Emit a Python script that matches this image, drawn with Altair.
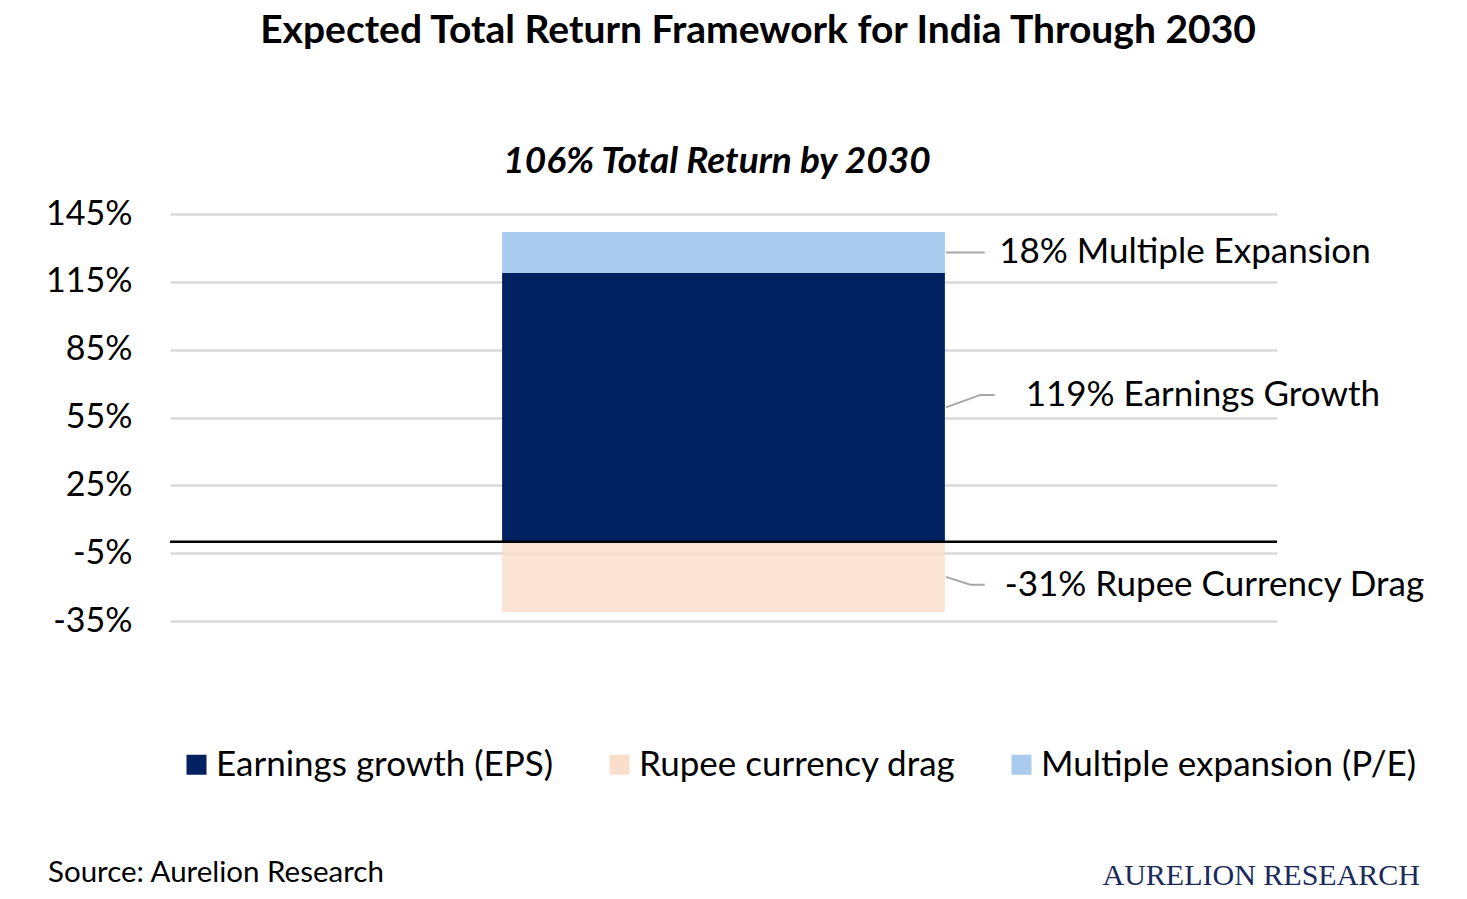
import altair as alt
import pandas as pd

# stacked components of the expected total return (%)
segments = ["Earnings growth (EPS)", "Rupee currency drag", "Multiple expansion (P/E)"]
seg_start = [0, 0, 119]
seg_end = [119, -31, 137]
seg_colors = ["#022160", "#FBDDCB", "#A9CBEE"]
callouts = ["119% Earnings Growth", "-31% Rupee Currency Drag", "18% Multiple Expansion"]
y_ticks = [-35, -5, 25, 55, 85, 115, 145]

total = sum(e - s for s, e in zip(seg_start, seg_end))

FONT = "Lato"
W, H = 1107, 407
BAR = (0.3, 0.7)

bars = pd.DataFrame({
    "segment": segments,
    "start": seg_start,
    "end": seg_end,
    "x0": BAR[0],
    "x1": BAR[1],
})

# leader lines: from bar edge at segment middle, bend, then a short horizontal run
shift = {segments[0]: 5.5, segments[1]: -3.5, segments[2]: 0}
elbow = {segments[0]: 0.732, segments[1]: 0.723, segments[2]: 0.702}
tip = {segments[0]: 0.745, segments[1]: 0.736, segments[2]: 0.736}
text_x = {segments[0]: 0.773, segments[1]: 0.754, segments[2]: 0.749}

rows, labels = [], []
for seg, s, e, txt in zip(segments, seg_start, seg_end, callouts):
    mid = (s + e) / 2
    rows += [
        {"segment": seg, "order": 0, "x": 0.701, "y": mid},
        {"segment": seg, "order": 1, "x": elbow[seg], "y": mid + shift[seg]},
        {"segment": seg, "order": 2, "x": tip[seg], "y": mid + shift[seg]},
    ]
    labels.append({"text": txt, "x": text_x[seg], "y": mid + shift[seg]})
leaders = pd.DataFrame(rows)
callout_df = pd.DataFrame(labels)

x_scale = alt.Scale(domain=[0, 1])
y_scale = alt.Scale(domain=[-35, 145], nice=False, zero=False)

base_y = alt.Y(
    "start:Q",
    scale=y_scale,
    axis=alt.Axis(
        values=y_ticks,
        labelExpr="datum.value + '%'",
        labelFontSize=34,
        labelFont=FONT,
        labelColor="black",
        labelPadding=38,
        domain=False,
        ticks=False,
        grid=True,
        gridColor="#d9d9d9",
        gridWidth=2.5,
        title=None,
    ),
)

bar_layer = alt.Chart(bars).mark_bar().encode(
    x=alt.X("x0:Q", scale=x_scale, axis=None),
    x2="x1:Q",
    y=base_y,
    y2="end:Q",
    color=alt.Color(
        "segment:N",
        scale=alt.Scale(domain=segments, range=seg_colors),
        sort=segments,
        legend=alt.Legend(
            title=None,
            orient="none",
            direction="horizontal",
            legendX=9,
            legendY=533,
            symbolType="square",
            symbolSize=400,
            symbolStrokeWidth=0,
            labelFont=FONT,
            labelFontSize=35,
            labelColor="black",
            labelLimit=600,
            labelOffset=2,
            columnPadding=48,
        ),
    ),
    opacity=alt.condition(
        alt.datum.segment == segments[1], alt.value(0.8), alt.value(1)
    ),
)

zero_line = alt.Chart(pd.DataFrame({"y": [0]})).mark_rule(
    color="black", strokeWidth=2.5
).encode(y=alt.Y("y:Q", scale=y_scale))

leader_layer = alt.Chart(leaders).mark_line(color="#a6a6a6", strokeWidth=2).encode(
    x=alt.X("x:Q", scale=x_scale),
    y=alt.Y("y:Q", scale=y_scale),
    detail="segment:N",
    order="order:Q",
)

callout_layer = alt.Chart(callout_df).mark_text(
    align="left", baseline="middle", font=FONT, fontSize=35, color="black"
).encode(
    x=alt.X("x:Q", scale=x_scale),
    y=alt.Y("y:Q", scale=y_scale),
    text="text:N",
)

subtitle = alt.Chart(pd.DataFrame({"t": [f"{total}% Total Return by 2030"]})).mark_text(
    font=FONT, fontSize=37, fontWeight="bold", fontStyle="italic",
    align="center", baseline="middle", color="black",
).encode(x=alt.value(547), y=alt.value(-52), text="t:N")

headline = alt.Chart(
    pd.DataFrame({"t": ["Expected Total Return Framework for India Through 2030"]})
).mark_text(
    font=FONT, fontSize=39, fontWeight="bold",
    align="center", baseline="middle", color="black",
).encode(x=alt.value(588), y=alt.value(-183), text="t:N")

source = alt.Chart(pd.DataFrame({"t": ["Source: Aurelion Research"]})).mark_text(
    font=FONT, fontSize=29.5, align="left", baseline="middle", color="black",
).encode(x=alt.value(-122), y=alt.value(659), text="t:N")

brand = alt.Chart(pd.DataFrame({"t": ["AURELION RESEARCH"]})).mark_text(
    font="Liberation Serif", fontSize=30, align="right", baseline="middle",
    color="#1b2a5c",
).encode(x=alt.value(1250), y=alt.value(662), text="t:N")

chart = alt.layer(
    bar_layer, zero_line, leader_layer, callout_layer,
    subtitle, headline, source, brand,
).properties(
    width=W,
    height=H,
    autosize=alt.AutoSizeParams(type="none"),
    padding={"left": 162, "top": 206, "right": 182, "bottom": 270},
).configure_view(stroke=None)

chart.save("out.html", embed_options={"renderer": "svg", "actions": False})
